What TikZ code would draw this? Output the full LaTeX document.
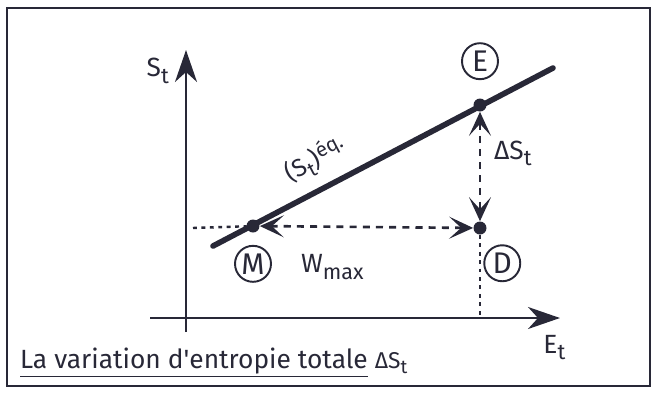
\documentclass[tikz,border=0pt]{standalone}
\usepackage{fontspec}
\setmainfont{Fira Sans}
\usepackage{tikz}
\usetikzlibrary{arrows.meta,positioning}
\definecolor{cInk}{RGB}{40,40,55}
\newcommand{\lsub}[1]{\raisebox{-0.45ex}{\scalebox{0.82}{#1}}}
\newcommand{\lsup}[1]{\raisebox{0.55ex}{\scalebox{0.82}{#1}}}
\tikzset{
  axisarr/.style={-{Stealth[length=0.64cm,width=0.44cm,inset=0.2cm]},line width=1.3pt,color=cInk},
  eqline/.style={line width=3.2pt,color=cInk,line cap=round},
  ptdot/.style={circle,fill=cInk,inner sep=0pt,minimum size=0.26cm},
  circlab/.style={circle,draw=cInk,line width=1.1pt,inner sep=0pt,minimum size=0.72cm,
                  font=\fontsize{17}{17}\selectfont,text=cInk},
  biarr/.style={{Stealth[length=0.48cm,width=0.44cm,inset=0.24cm]}-{Stealth[length=0.48cm,width=0.44cm,inset=0.24cm]},
                  line width=1.5pt,color=cInk,dash pattern=on 4pt off 3.5pt},
  dotline/.style={line width=1.4pt,color=cInk,dash pattern=on 2.2pt off 2.6pt},
  lbl/.style={font=\fontsize{15}{15}\selectfont,text=cInk,inner sep=1pt}
}
\begin{document}
\begin{tikzpicture}[x=0.02cm,y=-0.02cm]
  \useasboundingbox (0,0) rectangle (657,397);
  \draw[line width=1.2pt,color=cInk] (7,8) rectangle (650,386);

  % axes
  \coordinate (ybot) at (186,332);
  \coordinate (ytop) at (186,50);
  \coordinate (xleft) at (150,318);
  \coordinate (xright) at (560,318);
  \draw[axisarr] (ybot) -- (ytop);
  \draw[axisarr] (xleft) -- (xright);
  \node[lbl,left=0.3cm of ytop,yshift=-0.42cm] (St) {S\lsub{t}};
  \node[lbl,below left=0.3cm and -0.15cm of xright] (Et) {E\lsub{t}};

  % equilibrium line and states
  \coordinate (lstart) at (213,246);
  \coordinate (lend) at (553,68);
  \draw[eqline] (lstart) -- (lend)
      node[pos=0.34,sloped,above=0.2cm,lbl,font=\fontsize{14}{14}\selectfont]
      {(S\lsub{t})\lsup{éq.}};
  \node[ptdot] (M) at (253,226) {};
  \node[ptdot] (E) at (480,105) {};
  \node[ptdot] (D) at (480,228) {};
  \node[circlab,above=0.36cm of E] (lblE) {E};
  \node[circlab,below=0.24cm of M] (lblM) {M};
  \node[circlab,below right=0.34cm and 0.08cm of D] (lblD) {D};

  \coordinate (dleft) at (193,228);
  \coordinate (dfoot) at (480,318);
  \draw[dotline] (dleft) -- (M);
  \draw[dotline] (D) -- (dfoot);
  \draw[biarr] (M) -- (D)
      node[pos=0.34,below=0.5cm,lbl] {W\lsub{max}};
  \draw[biarr] (E) -- (D)
      node[pos=0.38,right=0.22cm,lbl] {ΔS\lsub{t}};

  \node[lbl,anchor=base west] (cap) at (18,368)
      {\underline{La variation d\textquotesingle entropie totale} {\fontsize{13}{13}\selectfont ΔS\lsub{t}}};
\end{tikzpicture}
\end{document}
